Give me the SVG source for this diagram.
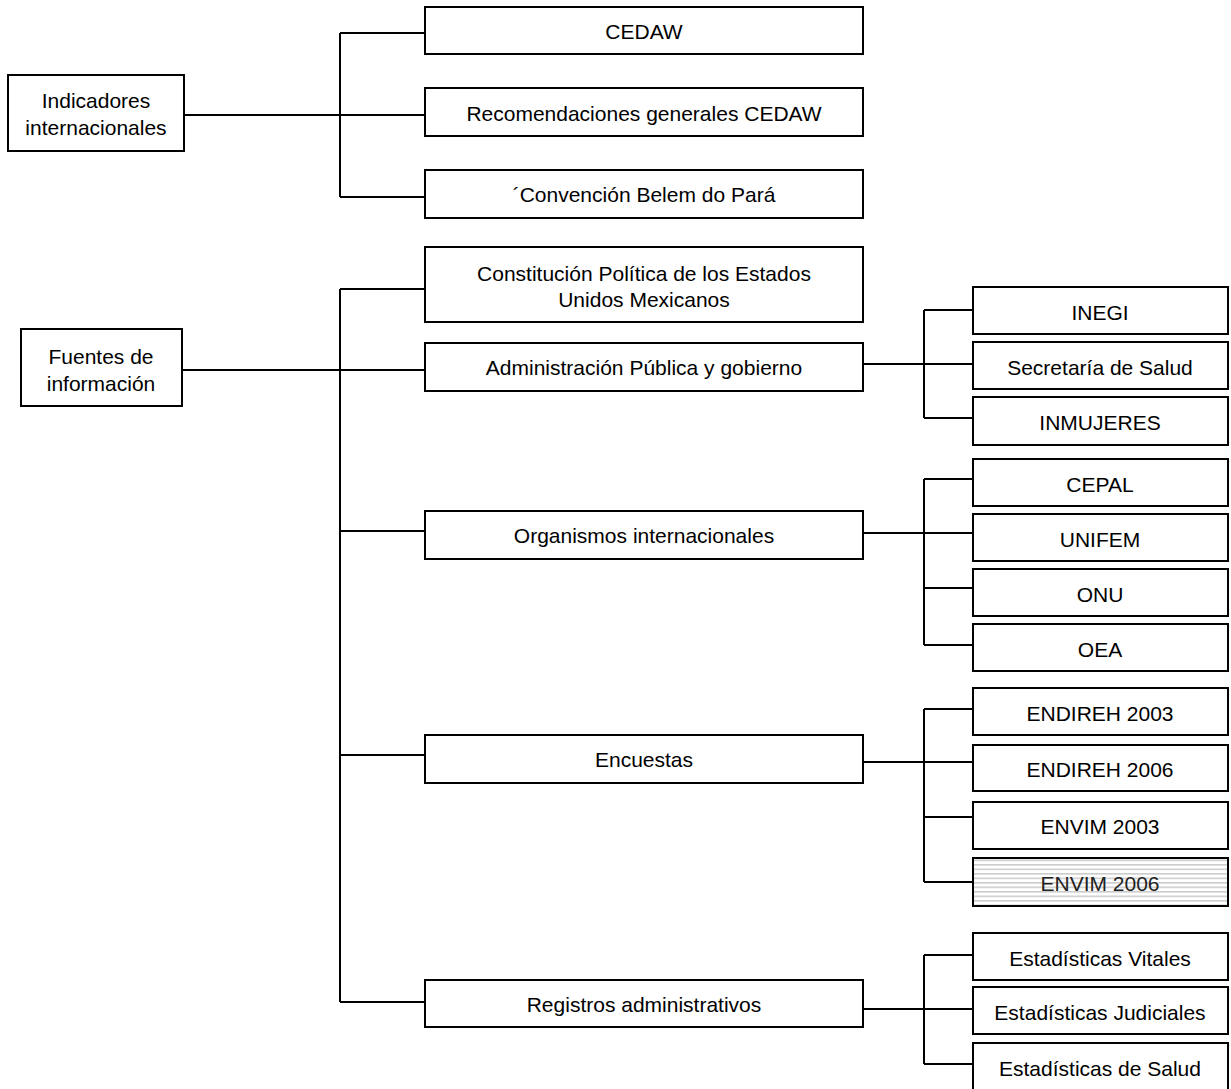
<svg xmlns="http://www.w3.org/2000/svg" width="1231" height="1089" viewBox="0 0 1231 1089">
<style>
  .box { fill: #ffffff; stroke: #000000; stroke-width: 2; }
  .striped { fill: url(#stripes); stroke: #000000; stroke-width: 2; }
  .lbl { font-family: "Liberation Sans", Arial, sans-serif; font-size: 21px; fill: #000000; text-anchor: middle; }
  .lbl-gray { fill: #222222; }
  .conn { fill: none; stroke: #000000; stroke-width: 2; }
</style>
<defs>
  <pattern id="stripes" patternUnits="userSpaceOnUse" width="8" height="4.5">
    <rect x="0" y="0" width="8" height="4.5" fill="#ffffff"/>
    <rect x="0" y="0" width="8" height="1.6" fill="#cccccc"/>
  </pattern>
</defs>
<rect x="0" y="0" width="1231" height="1089" fill="#ffffff"/>

<g id="connectors">
  <!-- Indicadores internacionales -->
  <path class="conn" d="M184,115 H340 M340,33 V197 M340,33 H425 M340,115 H425 M340,197 H425"/>
  <!-- Fuentes de información -->
  <path class="conn" d="M182,370 H425 M340,289 V1002 M340,289 H425 M340,531 H425 M340,755 H425 M340,1002 H425"/>
  <!-- Administración -->
  <path class="conn" d="M863,364 H973 M924,310 V418 M924,310 H973 M924,418 H973"/>
  <!-- Organismos -->
  <path class="conn" d="M863,533 H973 M924,479 V645 M924,479 H973 M924,588 H973 M924,645 H973"/>
  <!-- Encuestas -->
  <path class="conn" d="M863,762 H973 M924,709 V882 M924,709 H973 M924,817 H973 M924,882 H973"/>
  <!-- Registros -->
  <path class="conn" d="M863,1009 H973 M924,955 V1064 M924,955 H973 M924,1064 H973"/>
</g>

<g id="n-indicadores">
  <rect class="box" x="8" y="75" width="176" height="76"/>
  <text class="lbl" x="96" y="108">Indicadores</text>
  <text class="lbl" x="96" y="135">internacionales</text>
</g>
<g id="n-cedaw">
  <rect class="box" x="425" y="7" width="438" height="47"/>
  <text class="lbl" x="644" y="39">CEDAW</text>
</g>
<g id="n-recomendaciones">
  <rect class="box" x="425" y="88" width="438" height="48"/>
  <text class="lbl" x="644" y="121">Recomendaciones generales CEDAW</text>
</g>
<g id="n-belem">
  <rect class="box" x="425" y="170" width="438" height="48"/>
  <text class="lbl" x="644" y="202">´Convención Belem do Pará</text>
</g>

<g id="n-fuentes">
  <rect class="box" x="21" y="329" width="161" height="77"/>
  <text class="lbl" x="101" y="364">Fuentes de</text>
  <text class="lbl" x="101" y="391">información</text>
</g>
<g id="n-constitucion">
  <rect class="box" x="425" y="247" width="438" height="75"/>
  <text class="lbl" x="644" y="281">Constitución Política de los Estados</text>
  <text class="lbl" x="644" y="307">Unidos Mexicanos</text>
</g>
<g id="n-administracion">
  <rect class="box" x="425" y="343" width="438" height="48"/>
  <text class="lbl" x="644" y="375">Administración Pública y gobierno</text>
</g>
<g id="n-organismos">
  <rect class="box" x="425" y="511" width="438" height="48"/>
  <text class="lbl" x="644" y="543">Organismos internacionales</text>
</g>
<g id="n-encuestas">
  <rect class="box" x="425" y="735" width="438" height="48"/>
  <text class="lbl" x="644" y="767">Encuestas</text>
</g>
<g id="n-registros">
  <rect class="box" x="425" y="980" width="438" height="47"/>
  <text class="lbl" x="644" y="1012">Registros administrativos</text>
</g>

<g id="n-inegi">
  <rect class="box" x="973" y="287" width="255" height="47"/>
  <text class="lbl" x="1100" y="320">INEGI</text>
</g>
<g id="n-salud">
  <rect class="box" x="973" y="342" width="255" height="47"/>
  <text class="lbl" x="1100" y="375">Secretaría de Salud</text>
</g>
<g id="n-inmujeres">
  <rect class="box" x="973" y="397" width="255" height="48"/>
  <text class="lbl" x="1100" y="430">INMUJERES</text>
</g>

<g id="n-cepal">
  <rect class="box" x="973" y="459" width="255" height="47"/>
  <text class="lbl" x="1100" y="492">CEPAL</text>
</g>
<g id="n-unifem">
  <rect class="box" x="973" y="514" width="255" height="47"/>
  <text class="lbl" x="1100" y="547">UNIFEM</text>
</g>
<g id="n-onu">
  <rect class="box" x="973" y="569" width="255" height="47"/>
  <text class="lbl" x="1100" y="602">ONU</text>
</g>
<g id="n-oea">
  <rect class="box" x="973" y="624" width="255" height="47"/>
  <text class="lbl" x="1100" y="657">OEA</text>
</g>

<g id="n-endireh2003">
  <rect class="box" x="973" y="688" width="255" height="47"/>
  <text class="lbl" x="1100" y="721">ENDIREH 2003</text>
</g>
<g id="n-endireh2006">
  <rect class="box" x="973" y="745" width="255" height="46"/>
  <text class="lbl" x="1100" y="777">ENDIREH 2006</text>
</g>
<g id="n-envim2003">
  <rect class="box" x="973" y="802" width="255" height="47"/>
  <text class="lbl" x="1100" y="834">ENVIM 2003</text>
</g>
<g id="n-envim2006">
  <rect class="striped" x="973" y="858" width="255" height="48"/>
  <text class="lbl lbl-gray" x="1100" y="891">ENVIM 2006</text>
</g>

<g id="n-vitales">
  <rect class="box" x="973" y="933" width="255" height="47"/>
  <text class="lbl" x="1100" y="966">Estadísticas Vitales</text>
</g>
<g id="n-judiciales">
  <rect class="box" x="973" y="987" width="255" height="47"/>
  <text class="lbl" x="1100" y="1020">Estadísticas Judiciales</text>
</g>
<g id="n-estsalud">
  <rect class="box" x="973" y="1043" width="255" height="50"/>
  <text class="lbl" x="1100" y="1076">Estadísticas de Salud</text>
</g>
</svg>
